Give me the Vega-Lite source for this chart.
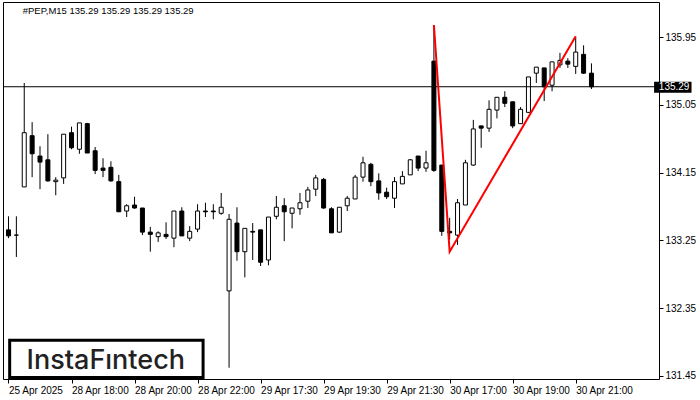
{
  "$schema": "https://vega.github.io/schema/vega-lite/v6.json",
  "width": 656,
  "height": 377,
  "autosize": "none",
  "padding": {"left": 3, "top": 2, "right": 41, "bottom": 21},
  "background": "white",
  "config": {
    "view": {"stroke": "black", "strokeWidth": 1},
    "font": "Liberation Sans",
    "axis": {"labelFont": "Liberation Sans", "labelFontSize": 10, "labelColor": "black", "tickColor": "black", "grid": false, "domain": false, "tickSize": 4, "labelPadding": 2, "title": null}
  },
  "datasets": {
    "candles": [
      {"k":0,"o":133.39,"h":133.57,"l":133.28,"c":133.31},
      {"k":1,"o":133.32,"h":133.57,"l":133.03,"c":133.32},
      {"k":2,"o":133.96,"h":135.34,"l":133.96,"c":134.68},
      {"k":3,"o":134.64,"h":134.82,"l":134.09,"c":134.40},
      {"k":4,"o":134.37,"h":134.50,"l":133.93,"c":134.29},
      {"k":5,"o":134.32,"h":134.66,"l":134.03,"c":134.04},
      {"k":6,"o":134.03,"h":134.09,"l":133.85,"c":134.05},
      {"k":7,"o":134.08,"h":134.66,"l":134.00,"c":134.66},
      {"k":8,"o":134.68,"h":134.76,"l":134.46,"c":134.48},
      {"k":9,"o":134.46,"h":134.81,"l":134.40,"c":134.81},
      {"k":10,"o":134.80,"h":134.81,"l":134.41,"c":134.41},
      {"k":11,"o":134.44,"h":134.49,"l":134.13,"c":134.18},
      {"k":12,"o":134.21,"h":134.34,"l":134.09,"c":134.18},
      {"k":13,"o":134.22,"h":134.30,"l":134.03,"c":134.04},
      {"k":14,"o":134.03,"h":134.12,"l":133.63,"c":133.63},
      {"k":15,"o":133.64,"h":133.73,"l":133.56,"c":133.71},
      {"k":16,"o":133.72,"h":133.83,"l":133.67,"c":133.68},
      {"k":17,"o":133.68,"h":133.68,"l":133.32,"c":133.36},
      {"k":18,"o":133.36,"h":133.43,"l":133.10,"c":133.33},
      {"k":19,"o":133.30,"h":133.37,"l":133.23,"c":133.35},
      {"k":20,"o":133.33,"h":133.49,"l":133.27,"c":133.30},
      {"k":21,"o":133.28,"h":133.64,"l":133.16,"c":133.64},
      {"k":22,"o":133.64,"h":133.69,"l":133.31,"c":133.31},
      {"k":23,"o":133.28,"h":133.44,"l":133.24,"c":133.37},
      {"k":24,"o":133.40,"h":133.73,"l":133.36,"c":133.64},
      {"k":25,"o":133.64,"h":133.75,"l":133.56,"c":133.63},
      {"k":26,"o":133.64,"h":133.73,"l":133.53,"c":133.63},
      {"k":27,"o":133.61,"h":133.88,"l":133.59,"c":133.69},
      {"k":28,"o":132.58,"h":133.60,"l":131.56,"c":133.53},
      {"k":29,"o":133.48,"h":133.69,"l":132.98,"c":133.10},
      {"k":30,"o":133.10,"h":133.41,"l":132.76,"c":133.41},
      {"k":31,"o":133.37,"h":133.48,"l":132.99,"c":133.36},
      {"k":32,"o":133.39,"h":133.39,"l":132.91,"c":132.96},
      {"k":33,"o":132.99,"h":133.56,"l":132.92,"c":133.56},
      {"k":34,"o":133.57,"h":133.84,"l":133.53,"c":133.69},
      {"k":35,"o":133.71,"h":133.81,"l":133.24,"c":133.63},
      {"k":36,"o":133.61,"h":133.68,"l":133.41,"c":133.68},
      {"k":37,"o":133.67,"h":133.88,"l":133.59,"c":133.75},
      {"k":38,"o":133.77,"h":133.96,"l":133.68,"c":133.92},
      {"k":39,"o":133.93,"h":134.12,"l":133.84,"c":134.08},
      {"k":40,"o":134.06,"h":134.08,"l":133.67,"c":133.68},
      {"k":41,"o":133.67,"h":133.69,"l":133.35,"c":133.35},
      {"k":42,"o":133.36,"h":133.69,"l":133.35,"c":133.69},
      {"k":43,"o":133.71,"h":133.84,"l":133.64,"c":133.81},
      {"k":44,"o":133.80,"h":134.12,"l":133.80,"c":134.09},
      {"k":45,"o":134.09,"h":134.36,"l":134.03,"c":134.28},
      {"k":46,"o":134.26,"h":134.28,"l":133.97,"c":134.03},
      {"k":47,"o":134.04,"h":134.14,"l":133.79,"c":133.88},
      {"k":48,"o":133.89,"h":133.95,"l":133.80,"c":133.83},
      {"k":49,"o":133.81,"h":134.09,"l":133.68,"c":134.03},
      {"k":50,"o":134.00,"h":134.17,"l":134.00,"c":134.10},
      {"k":51,"o":134.12,"h":134.33,"l":134.12,"c":134.32},
      {"k":52,"o":134.37,"h":134.37,"l":134.17,"c":134.21},
      {"k":53,"o":134.21,"h":134.44,"l":134.16,"c":134.28},
      {"k":54,"o":135.63,"h":136.10,"l":134.16,"c":134.18},
      {"k":55,"o":134.25,"h":134.25,"l":133.31,"c":133.37},
      {"k":56,"o":133.37,"h":133.55,"l":133.26,"c":133.35},
      {"k":57,"o":133.32,"h":133.80,"l":133.19,"c":133.75},
      {"k":58,"o":133.72,"h":134.32,"l":133.72,"c":134.28},
      {"k":59,"o":134.25,"h":134.85,"l":134.24,"c":134.73},
      {"k":60,"o":134.77,"h":134.77,"l":134.48,"c":134.74},
      {"k":61,"o":134.74,"h":135.11,"l":134.69,"c":134.99},
      {"k":62,"o":134.98,"h":135.15,"l":134.87,"c":135.15},
      {"k":63,"o":135.15,"h":135.23,"l":135.02,"c":135.07},
      {"k":64,"o":135.09,"h":135.09,"l":134.74,"c":134.77},
      {"k":65,"o":134.80,"h":135.02,"l":134.80,"c":134.99},
      {"k":66,"o":134.95,"h":135.42,"l":134.94,"c":135.42},
      {"k":67,"o":135.47,"h":135.55,"l":135.34,"c":135.55},
      {"k":68,"o":135.54,"h":135.54,"l":135.10,"c":135.29},
      {"k":69,"o":135.31,"h":135.62,"l":135.23,"c":135.62},
      {"k":70,"o":135.58,"h":135.74,"l":135.54,"c":135.64},
      {"k":71,"o":135.63,"h":135.67,"l":135.54,"c":135.59},
      {"k":72,"o":135.56,"h":135.95,"l":135.46,"c":135.75},
      {"k":73,"o":135.72,"h":135.84,"l":135.46,"c":135.47},
      {"k":74,"o":135.47,"h":135.60,"l":135.26,"c":135.29}
    ],
    "pattern": [
      {"k":54,"p":136.11},
      {"k":56,"p":133.10},
      {"k":72,"p":135.96}
    ],
    "one": [{"label": "#PEP,M15  135.29 135.29 135.29 135.29", "bid": 135.29, "brand": "InstaFıntech"}]
  },
  "layer": [
    {
      "data": {"name": "candles"},
      "mark": {"type": "rule", "color": "black", "strokeWidth": 1},
      "encoding": {
        "x": {"field": "k", "type": "quantitative",
              "scale": {"domain": [-0.0625, 81.9375], "nice": false, "zero": false},
              "axis": {"values": [0,8,16,24,32,40,48,56,64,72],
                       "labelExpr": "['25 Apr 2025','28 Apr 18:00','28 Apr 20:00','28 Apr 22:00','29 Apr 17:30','29 Apr 19:30','29 Apr 21:30','30 Apr 17:00','30 Apr 19:00','30 Apr 21:00'][round(datum.value/8)]",
                       "labelAlign": "left", "labelBound": false, "labelFlush": false, "labelOverlap": false, "title": null}},
        "y": {"field": "l", "type": "quantitative",
              "scale": {"domain": [131.41, 136.415], "nice": false, "zero": false},
              "axis": {"orient": "right", "values": [131.45,131.9,132.35,132.8,133.25,133.7,134.15,134.6,135.05,135.5,135.95],
                       "format": ".2f", "labelBound": false, "labelFlush": false, "labelOverlap": false, "title": null}},
        "y2": {"field": "h"}
      }
    },
    {
      "data": {"name": "candles"},
      "mark": {"type": "bar", "size": 4, "stroke": "black", "strokeWidth": 1},
      "encoding": {
        "x": {"field": "k", "type": "quantitative"},
        "y": {"field": "o", "type": "quantitative"},
        "y2": {"field": "c"},
        "fill": {"condition": {"test": "datum.c > datum.o", "value": "white"}, "value": "black"}
      }
    },
    {
      "data": {"name": "one"},
      "mark": {"type": "rule", "color": "black", "strokeWidth": 1},
      "encoding": {"y": {"field": "bid", "type": "quantitative"}}
    },
    {
      "data": {"name": "pattern"},
      "mark": {"type": "line", "color": "#ff0000", "strokeWidth": 2},
      "encoding": {
        "x": {"field": "k", "type": "quantitative"},
        "y": {"field": "p", "type": "quantitative"}
      }
    },
    {
      "data": {"name": "one"},
      "mark": {"type": "text", "font": "Liberation Sans", "fontSize": 9.5, "color": "black", "align": "left", "baseline": "middle"},
      "encoding": {
        "x": {"datum": 1.8, "type": "quantitative"},
        "y": {"datum": 136.295, "type": "quantitative"},
        "text": {"field": "label"}
      }
    },
    {
      "data": {"name": "one"},
      "mark": {"type": "rect", "fill": "white", "stroke": "black", "strokeWidth": 3},
      "encoding": {
        "x": {"datum": 0.15, "type": "quantitative"},
        "x2": {"datum": 24.7},
        "y": {"datum": 131.925, "type": "quantitative"},
        "y2": {"datum": 131.43}
      }
    },
    {
      "data": {"name": "one"},
      "mark": {"type": "text", "font": "Inter", "fontSize": 27, "fontWeight": 500, "color": "#222222", "align": "center", "baseline": "alphabetic"},
      "encoding": {
        "x": {"datum": 12.35, "type": "quantitative"},
        "y": {"datum": 131.543, "type": "quantitative"},
        "text": {"field": "brand"}
      }
    },
    {
      "data": {"name": "one"},
      "mark": {"type": "rect", "fill": "black"},
      "encoding": {
        "x": {"datum": 81.95, "type": "quantitative"},
        "x2": {"datum": 86.7},
        "y": {"datum": 135.355, "type": "quantitative"},
        "y2": {"datum": 135.21}
      }
    },
    {
      "data": {"name": "one"},
      "mark": {"type": "text", "font": "Liberation Sans", "fontSize": 10, "color": "white", "align": "left", "baseline": "middle"},
      "encoding": {
        "x": {"datum": 82.55, "type": "quantitative"},
        "y": {"datum": 135.285, "type": "quantitative"},
        "text": {"field": "bid", "type": "quantitative", "format": ".2f"}
      }
    }
  ]
}
